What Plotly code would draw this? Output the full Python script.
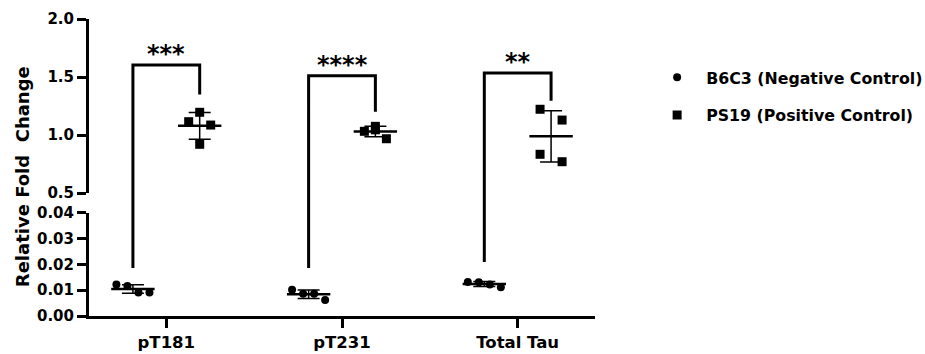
import numpy as np
import plotly.graph_objects as go

# ---------------- data ----------------
categories = ["pT181", "pT231", "Total Tau"]
series_names = ["B6C3 (Negative Control)", "PS19 (Positive Control)"]
b6c3_values = [
    [0.0122, 0.0116, 0.0091, 0.0091],
    [0.0102, 0.0086, 0.0086, 0.0062],
    [0.0132, 0.0131, 0.0122, 0.0112],
]
ps19_values = [
    [1.115, 1.196, 0.920, 1.086],
    [1.032, 1.075, 1.045, 0.968],
    [1.222, 1.129, 0.834, 0.770],
]
significance = ["***", "****", "**"]
bracket_top = [1.603, 1.51, 1.534]
bracket_right_end = [1.35, 1.20, 1.296]
bracket_left_end = [0.0186, 0.0186, 0.021]
y_top_ticks = [0.5, 1.0, 1.5, 2.0]
y_bottom_ticks = [0.00, 0.01, 0.02, 0.03, 0.04]

# ---------------- layout constants ----------------
W, H = 925, 354
ML, MR, MT, MB = 89, 330, 19, 38
TOP_DOM = [0.414, 1.0]
BOT_DOM = [0.0, 0.347]
TOP_RANGE = [0.5, 2.0]
BOT_RANGE = [0.0, 0.04]
GROUP_OFF = 0.19
STEP = 0.0627
JIT_B6 = [[-1.5, -0.5, 0.5, 1.5]] * 3
JIT_PS = [[-1, 0, 0, 1], [-1, 0, 0, 1], [-1, 1, -1, 1]]
FONT = "DejaVu Sans, Arial, sans-serif"


def paper_top(v):
    return TOP_DOM[0] + (v - TOP_RANGE[0]) / (TOP_RANGE[1] - TOP_RANGE[0]) * (TOP_DOM[1] - TOP_DOM[0])


def paper_bot(v):
    return BOT_DOM[0] + (v - BOT_RANGE[0]) / (BOT_RANGE[1] - BOT_RANGE[0]) * (BOT_DOM[1] - BOT_DOM[0])


fig = go.Figure()

groups = [
    (b6c3_values, JIT_B6, -GROUP_OFF, "y", "circle", series_names[0]),
    (ps19_values, JIT_PS, GROUP_OFF, "y2", "square", series_names[1]),
]
for gi, (vals, jit, off, yax, sym, name) in enumerate(groups):
    xs, ys = [], []
    mx, my, sd = [], [], []
    for ci, v in enumerate(vals):
        c = ci + off
        for j, val in zip(jit[ci], v):
            xs.append(c + j * STEP)
            ys.append(val)
        mx.append(c)
        my.append(float(np.mean(v)))
        sd.append(float(np.std(v, ddof=1)))
    # error bars (SD)
    fig.add_trace(go.Scatter(
        x=mx, y=my, yaxis=yax, mode="markers",
        marker=dict(size=1, color="rgba(0,0,0,0)"),
        error_y=dict(type="data", array=sd, visible=True, color="black", thickness=1.5, width=11),
        showlegend=False, hoverinfo="skip"))
    # mean line
    fig.add_trace(go.Scatter(
        x=mx, y=my, yaxis=yax, mode="markers",
        marker=dict(symbol="line-ew-open", size=31, color="black", line=dict(color="black", width=2.5)),
        showlegend=False, hoverinfo="skip"))
    # points
    fig.add_trace(go.Scatter(
        x=xs, y=ys, yaxis=yax, mode="markers", name=name,
        legendgroup=name,
        marker=dict(symbol=sym, size=9 if sym == "square" else 8, color="black"),
        showlegend=True))

shapes = []
for ci in range(len(categories)):
    xl, xr = ci - GROUP_OFF, ci + GROUP_OFF
    yt = paper_top(bracket_top[ci])
    shapes.append(dict(type="path", xref="x", yref="paper",
                       path=f"M {xl},{paper_bot(bracket_left_end[ci])} L {xl},{yt} L {xr},{yt} L {xr},{paper_top(bracket_right_end[ci])}",
                       line=dict(color="black", width=3)))
fig.update_layout(shapes=shapes)

annotations = []
for ci, s in enumerate(significance):
    annotations.append(dict(x=ci, y=bracket_top[ci], xref="x", yref="y2", text=f"<b>{s}</b>",
                            showarrow=False, yanchor="bottom", yshift=-5,
                            font=dict(size=24, color="black", family=FONT)))
annotations.append(dict(x=-0.132, y=0.468, xref="paper", yref="paper", text="<b>Relative Fold  Change</b>",
                        textangle=-90, showarrow=False, xanchor="center", yanchor="middle",
                        font=dict(size=18, color="black", family=FONT)))
fig.update_layout(annotations=annotations)

axis_common = dict(showgrid=False, zeroline=False, showline=True, linecolor="black", linewidth=3,
                   ticks="outside", ticklen=9, tickwidth=3, tickcolor="black",
                   tickfont=dict(size=15, color="black", family=FONT, weight="bold"))

fig.update_layout(
    width=W, height=H,
    margin=dict(l=ML, r=MR, t=MT, b=MB, autoexpand=False),
    paper_bgcolor="white", plot_bgcolor="white",
    font=dict(family=FONT, color="black"),
    xaxis=dict(range=[-0.44, 2.44], tickvals=list(range(len(categories))), ticktext=categories,
               showgrid=False, zeroline=False, showline=True, linecolor="black", linewidth=3,
               ticks="outside", ticklen=9, tickwidth=3, tickcolor="black", anchor="y",
               tickfont=dict(size=16.5, color="black", family=FONT, weight="bold")),
    yaxis=dict(domain=BOT_DOM, range=BOT_RANGE, tickvals=y_bottom_ticks,
               ticktext=[f"{t:.2f}" for t in y_bottom_ticks], anchor="x", **axis_common),
    yaxis2=dict(domain=TOP_DOM, range=TOP_RANGE, tickvals=y_top_ticks,
                ticktext=[f"{t:.1f}" for t in y_top_ticks], anchor="x", **axis_common),
    legend=dict(x=1.105, y=0.86, xanchor="left", yanchor="top", itemwidth=48,
                tracegroupgap=14, traceorder="grouped",
                font=dict(size=15.8, color="black", family=FONT, weight="bold"),
                bgcolor="rgba(0,0,0,0)"),
)

fig.write_html("out.html", config={"displayModeBar": False},
               post_script="document.body.style.margin='0';document.body.style.padding='0';")
